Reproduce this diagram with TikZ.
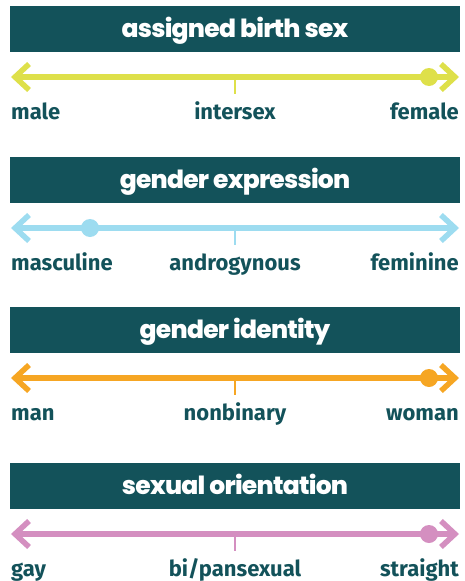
\documentclass[tikz,border=0pt]{standalone}
\usepackage{fontspec}
\setmainfont{Fira Sans}
\newfontfamily\bannerfont{Poppins}[BoldFont={* ExtraBold}, LetterSpace=-3]
\usetikzlibrary{arrows.meta}

\definecolor{deepteal}{HTML}{13525A}
\definecolor{sexyellow}{HTML}{DEE04A}
\definecolor{exprblue}{HTML}{9DDCF0}
\definecolor{identorange}{HTML}{F6A623}
\definecolor{orientpink}{HTML}{D48FC0}

\begin{document}
\begin{tikzpicture}[x=1pt, y=-1pt,  % one unit = one pixel of the reference, y runs down
    banner/.style={fill=deepteal, text=white, minimum width=450pt, minimum height=46pt,
        inner sep=0pt, text height=16pt, text depth=0pt,
        font=\bannerfont\bfseries\fontsize{25}{25}\selectfont},
    scaleline/.style={line width=5.5pt, {Straight Barb[length=14pt, width=26pt]}-{Straight Barb[length=14pt, width=26pt]}},
    tickline/.style={line width=2.5pt},
    dot/.style={circle, minimum size=18pt, inner sep=0pt},
    endlabel/.style={text=deepteal, inner sep=0pt, font=\bfseries\fontsize{22}{22}\selectfont}]
    \useasboundingbox (0,0) rectangle (464,581);

    % One scale for each row: banner, arrow, middle tick, dot and three labels
    \foreach \i/\ty/\title/\col/\dx/\lo/\md/\hi in {
        1/6/assigned birth sex/sexyellow/429/male/intersex/female,
        2/157/gender expression/exprblue/90/masculine/androgynous/feminine,
        3/307/gender identity/identorange/429/man/nonbinary/woman,
        4/463/sexual orientation/orientpink/429/gay/{bi/pansexual}/straight} {
        \node[banner] (bar\i) at (235,\ty+23) {\title};

        % the arrow and its tick
        \coordinate (w\i) at (11,\ty+71);
        \coordinate (e\i) at (459,\ty+71);
        \coordinate (m\i) at (235,\ty+71);
        \coordinate (t\i) at (235,\ty+88);
        \draw[scaleline, draw=\col] (w\i) -- (e\i);
        \draw[tickline, draw=\col] (m\i) -- (t\i);
        \node[dot, fill=\col] (d\i) at (\dx,\ty+71) {};

        % labels under the arrow
        \node[endlabel, anchor=base west] (lo\i) at (11,\ty+113) {\lo};
        \node[endlabel, anchor=base] (md\i) at (235,\ty+113) {\md};
        \node[endlabel, anchor=base east] (hi\i) at (459,\ty+113) {\hi};
    }
\end{tikzpicture}
\end{document}
